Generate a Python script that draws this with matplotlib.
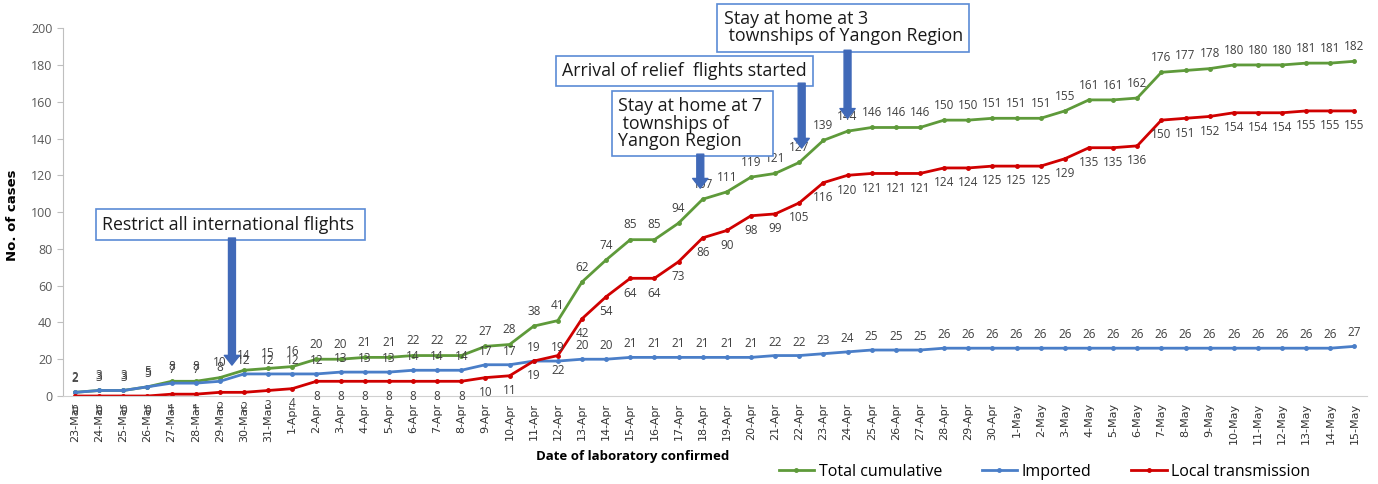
import matplotlib
matplotlib.use("Agg")
import matplotlib.pyplot as plt

# data
dates = ([f"{d}-Mar" for d in range(23, 32)] +
         [f"{d}-Apr" for d in range(1, 31)] +
         [f"{d}-May" for d in range(1, 16)])

total = [2, 3, 3, 5, 8, 8, 10, 14, 15,
         16, 20, 20, 21, 21, 22, 22, 22, 27, 28, 38, 41, 62, 74, 85, 85, 94,
         107, 111, 119, 121, 127, 139, 144, 146, 146, 146, 150, 150, 151,
         151, 151, 155, 161, 161, 162, 176, 177, 178, 180, 180, 180, 181, 181, 182]
imported = [2, 3, 3, 5, 7, 7, 8, 12, 12,
            12, 12, 13, 13, 13, 14, 14, 14, 17, 17, 19, 19, 20, 20, 21, 21, 21,
            21, 21, 21, 22, 22, 23, 24, 25, 25, 25, 26, 26, 26,
            26, 26, 26, 26, 26, 26, 26, 26, 26, 26, 26, 26, 26, 26, 27]
local = [0, 0, 0, 0, 1, 1, 2, 2, 3,
         4, 8, 8, 8, 8, 8, 8, 8, 10, 11, 19, 22, 42, 54, 64, 64, 73,
         86, 90, 98, 99, 105, 116, 120, 121, 121, 121, 124, 124, 125,
         125, 125, 129, 135, 135, 136, 150, 151, 152, 154, 154, 154, 155, 155, 155]

# (text, box left x, box centre y, arrow x, arrow base y, arrow tip y)
events = [
    ("Restrict all international flights ", 1.12, 93.2, 6.5, 85.9, 16.8),
    ("Stay at home at 7 \n townships of\nYangon Region", 22.48, 148.1, 25.9, 131.5, 113.0),
    ("Arrival of relief  flights started", 20.17, 176.6, 30.1, 170.1, 134.8),
    ("Stay at home at 3\n townships of Yangon Region", 26.87, 200.2, 32.0, 188.0, 151.0),
]

green = "#5E9A3A"
blue = "#4A7EC8"
red = "#D00000"
arrow_col = "#4069B8"

plt.rcParams["font.family"] = ["Open Sans", "DejaVu Sans"]

fig = plt.figure(figsize=(13.78, 4.84), dpi=100)
ax = fig.add_axes([0.0457, 0.1818, 0.946, 0.760])

x = list(range(len(dates)))
ax.plot(x, total, color=green, lw=2, marker="o", ms=2.5, label="Total cumulative")
ax.plot(x, imported, color=blue, lw=2, marker="o", ms=2.5, label="Imported")
ax.plot(x, local, color=red, lw=2, marker="o", ms=2.5, label="Local transmission")

lab_col = "#404040"
for i in x:
    ax.annotate(str(total[i]), (i, total[i]), xytext=(0, 6), textcoords="offset points",
                ha="center", va="bottom", fontsize=8.5, color=lab_col)
    ax.annotate(str(imported[i]), (i, imported[i]), xytext=(0, 5), textcoords="offset points",
                ha="center", va="bottom", fontsize=8.5, color=lab_col)
    ax.annotate(str(local[i]), (i, local[i]), xytext=(0, -6), textcoords="offset points",
                ha="center", va="top", fontsize=8.5, color=lab_col)

for txt, bx, by, axx, y0, y1 in events:
    ax.text(bx, by, txt, ha="left", va="center", fontsize=12.8, color="#1a1a1a",
            linespacing=0.95, clip_on=False,
            bbox=dict(boxstyle="square,pad=0.35", fc="white", ec="#5B8BD6", lw=1.2))
    ax.annotate("", xy=(axx, y1), xytext=(axx, y0), annotation_clip=False,
                arrowprops=dict(width=5, headwidth=11, headlength=7,
                                color=arrow_col, shrink=0))

ax.set_xlim(-0.5, 53.5)
ax.set_ylim(0, 200)
ax.set_yticks(range(0, 201, 20))
ax.set_xticks(x)
ax.set_xticklabels(dates, rotation=90, fontsize=8,
                   family=["Liberation Sans Narrow", "DejaVu Sans"])
ax.tick_params(axis="x", length=0, pad=5, colors="#333333")
ax.tick_params(axis="y", length=4, labelsize=9, colors="#BFBFBF", labelcolor="#595959")
for s in ("top", "right"):
    ax.spines[s].set_visible(False)
ax.spines["left"].set_color("#BFBFBF")
ax.spines["bottom"].set_color("#D0D0D0")

fig.text(0.459, 0.056, "Date of laboratory confirmed", ha="center", va="center",
         fontsize=9.5, fontweight="bold")
fig.text(0.009, 0.556, "No. of cases", rotation=90, ha="center", va="center",
         fontsize=9.5, fontweight="bold", family=["Liberation Sans Narrow", "DejaVu Sans"])

fig.legend(loc="center", bbox_to_anchor=(0.758, 0.025), ncol=3, frameon=False,
           fontsize=11.5, handlelength=2.2, columnspacing=2.5, handletextpad=0.3)

fig.savefig("out.png", dpi=100)
